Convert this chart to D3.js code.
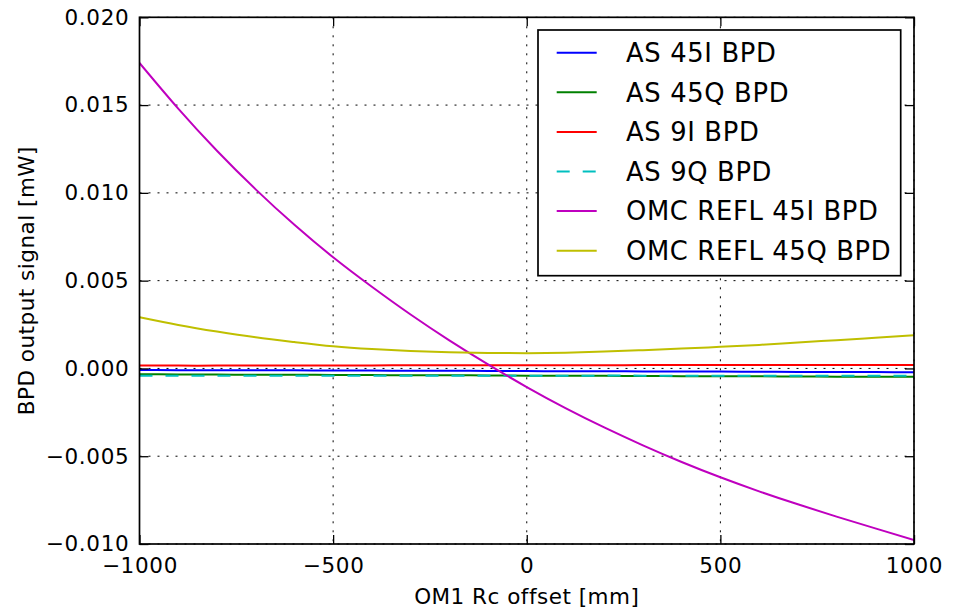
<!DOCTYPE html>
<html>
<head>
<meta charset="utf-8">
<script src="https://cdn.jsdelivr.net/npm/d3@7"></script>
<style>
  html, body { margin: 0; padding: 0; background: #fff; }
  svg { display: block; }
  text { font-family: "DejaVu Sans", sans-serif; fill: #000; }
</style>
</head>
<body>
<svg id="chart" width="966" height="609"></svg>
<script>
// ---- Data ----
const offsets = [-1000,-900,-800,-700,-600,-500,-400,-300,-200,-100,0,100,200,300,400,500,600,700,800,900,1000];

const as45I = [-0.00009,-0.00010,-0.00010,-0.00011,-0.00011,-0.00012,-0.00012,-0.00013,-0.00013,-0.00014,-0.00015,-0.00016,-0.00016,-0.00017,-0.00018,-0.00018,-0.00019,-0.00020,-0.00020,-0.00021,-0.00022];
const as45Q = [-0.00033,-0.00034,-0.00035,-0.00036,-0.00036,-0.00037,-0.00038,-0.00039,-0.00039,-0.00040,-0.00041,-0.00042,-0.00042,-0.00043,-0.00044,-0.00045,-0.00045,-0.00046,-0.00047,-0.00047,-0.00048];
const as9I = [0.00016,0.00016,0.00016,0.00017,0.00017,0.00017,0.00017,0.00018,0.00018,0.00018,0.00018,0.00018,0.00018,0.00019,0.00019,0.00019,0.00019,0.00019,0.00020,0.00020,0.00020];
const as9Q = [-0.00042,-0.00042,-0.00042,-0.00042,-0.00042,-0.00042,-0.00042,-0.00042,-0.00042,-0.00042,-0.00042,-0.00042,-0.00041,-0.00041,-0.00041,-0.00041,-0.00041,-0.00041,-0.00041,-0.00041,-0.00041];
const omc45I = [0.01740,0.01480,0.01240,0.01020,0.00818,0.00633,0.00465,0.00307,0.00160,0.00023,-0.00106,-0.00226,-0.00336,-0.00438,-0.00533,-0.00620,-0.00700,-0.00774,-0.00844,-0.00911,-0.00977];
const omc45Q = [0.00292,0.00248,0.00210,0.00177,0.00150,0.00126,0.00110,0.00099,0.00092,0.00088,0.00087,0.00090,0.00096,0.00104,0.00113,0.00123,0.00134,0.00148,0.00161,0.00175,0.00189];

const seriesNames = ["AS 45I BPD","AS 45Q BPD","AS 9I BPD","AS 9Q BPD","OMC REFL 45I BPD","OMC REFL 45Q BPD"];
const seriesValues = [as45I, as45Q, as9I, as9Q, omc45I, omc45Q];
const seriesColors = ["#0000ff","#008000","#ff0000","#00bfbf","#bf00bf","#bfbf00"];
const seriesDashed = [false,false,false,true,false,false];

const xTicks = [-1000,-500,0,500,1000];
const yTicks = [-0.010,-0.005,0.000,0.005,0.010,0.015,0.020];
const xLabel = "OM1 Rc offset [mm]";
const yLabel = "BPD output signal [mW]";

// ---- Layout ----
const L = 139.5, R = 914, T = 17.3, B = 544;
const svg = d3.select("#chart");
const x = d3.scaleLinear().domain([-1000, 1000]).range([L, R]);
const y = d3.scaleLinear().domain([-0.010, 0.020]).range([B, T]);

const fmtY = v => {
  const s = Math.abs(v).toFixed(3);
  return (v < -1e-12 ? "\u2212" : "") + s;
};
const fmtX = v => (v < 0 ? "\u2212" : "") + Math.abs(v);

// Grid
const grid = svg.append("g");
xTicks.forEach(t => {
  grid.append("line").attr("x1", x(t)).attr("x2", x(t)).attr("y1", T).attr("y2", B)
    .attr("stroke", "#000").attr("stroke-width", 1).attr("stroke-dasharray", "2,7");
});
yTicks.forEach(t => {
  grid.append("line").attr("x1", L).attr("x2", R).attr("y1", y(t)).attr("y2", y(t))
    .attr("stroke", "#000").attr("stroke-width", 1).attr("stroke-dasharray", "2,7");
});

// Lines
svg.append("clipPath").attr("id", "clip").append("rect")
  .attr("x", L).attr("y", T).attr("width", R - L).attr("height", B - T);
const line = d3.line().x((d, i) => x(offsets[i])).y(d => y(d)).curve(d3.curveNatural);
const lg = svg.append("g").attr("clip-path", "url(#clip)");
seriesValues.forEach((vals, k) => {
  lg.append("path").datum(vals).attr("d", line)
    .attr("fill", "none").attr("stroke", seriesColors[k]).attr("stroke-width", 2)
    .attr("stroke-dasharray", seriesDashed[k] ? "13,13" : null);
});

// Axes (inward ticks on all sides)
const tickLen = 9;
const axisBottom = d3.axisBottom(x).tickValues(xTicks).tickSizeInner(-tickLen).tickSizeOuter(0).tickPadding(tickLen + 5).tickFormat(fmtX);
const axisTop = d3.axisTop(x).tickValues(xTicks).tickSizeInner(-tickLen).tickSizeOuter(0).tickFormat("");
const axisLeft = d3.axisLeft(y).tickValues(yTicks).tickSizeInner(-tickLen).tickSizeOuter(0).tickPadding(tickLen + 1).tickFormat(fmtY);
const axisRight = d3.axisRight(y).tickValues(yTicks).tickSizeInner(-tickLen).tickSizeOuter(0).tickFormat("");

function styleAxis(g) {
  g.select(".domain").remove();
  g.selectAll(".tick line").attr("stroke", "#000").attr("stroke-width", 1.3);
  g.selectAll(".tick text").style("font-family", "DejaVu Sans").style("font-size", "21.5px")
    .style("letter-spacing", "0.7px").attr("fill", "#000");
}
svg.append("g").attr("transform", `translate(0,${B})`).call(axisBottom).call(styleAxis);
svg.append("g").attr("transform", `translate(0,${T})`).call(axisTop).call(styleAxis);
svg.append("g").attr("transform", `translate(${L},0)`).call(axisLeft).call(styleAxis);
svg.append("g").attr("transform", `translate(${R},0)`).call(axisRight).call(styleAxis);

// Frame
svg.append("rect").attr("x", L).attr("y", T).attr("width", R - L).attr("height", B - T)
  .attr("fill", "none").attr("stroke", "#000").attr("stroke-width", 1.7);

// Axis labels
svg.append("text").attr("x", (L + R) / 2).attr("y", 604).attr("text-anchor", "middle")
  .style("font-size", "21.5px").style("letter-spacing", "0.5px").text(xLabel);
svg.append("text").attr("transform", `translate(34,${(T + B) / 2}) rotate(-90)`)
  .attr("text-anchor", "middle").style("font-size", "21.5px").style("letter-spacing", "0.5px").text(yLabel);

// Legend
const lgX = 538, lgY = 30, lgW = 362.7, lgH = 245.7;
const leg = svg.append("g");
leg.append("rect").attr("x", lgX).attr("y", lgY).attr("width", lgW).attr("height", lgH)
  .attr("fill", "#fff").attr("stroke", "#000").attr("stroke-width", 1.7);
seriesNames.forEach((name, k) => {
  const yy = 52.7 + k * 39.6;
  leg.append("line").attr("x1", 556.7).attr("x2", 596.7).attr("y1", yy).attr("y2", yy)
    .attr("stroke", seriesColors[k]).attr("stroke-width", 2)
    .attr("stroke-dasharray", seriesDashed[k] ? "13,13" : null);
  leg.append("text").attr("x", 626).attr("y", yy).attr("dy", "0.36em")
    .style("font-size", "25.8px").style("letter-spacing", "0.65px").text(name);
});
</script>
</body>
</html>
